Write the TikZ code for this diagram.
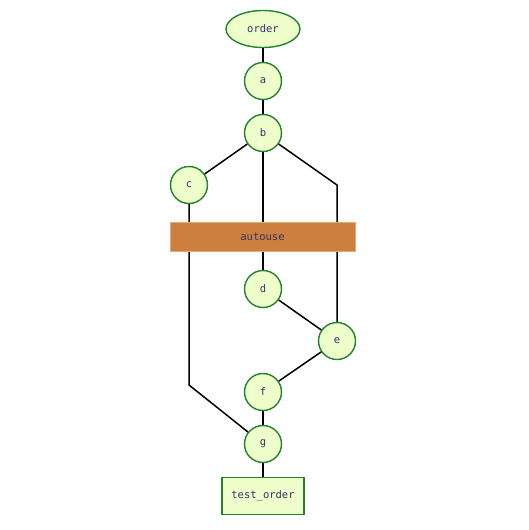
\documentclass[tikz,border=0pt]{standalone}
\usepackage{fontspec}
\setmonofont{DejaVu Sans Mono}
\usepackage{tikz}
\usetikzlibrary{shapes.geometric}

\definecolor{fixfill}{RGB}{238,255,204}
\definecolor{fixline}{RGB}{34,130,48}
\definecolor{fixtext}{RGB}{51,51,102}
\definecolor{autofill}{RGB}{205,127,63}
\definecolor{autoline}{RGB}{232,170,120}

\tikzset{
    fixnode/.style={circle, draw=fixline, fill=fixfill, line width=1.4pt,
        minimum size=37pt, inner sep=0pt, text=fixtext, font=\ttfamily\fontsize{10.5}{12}\selectfont},
    topnode/.style={ellipse, draw=fixline, fill=fixfill, line width=1.4pt,
        minimum width=74pt, minimum height=37pt, inner sep=0pt, text=fixtext, font=\ttfamily\fontsize{10.5}{12}\selectfont},
    testnode/.style={rectangle, draw=fixline, fill=fixfill, line width=1.4pt,
        minimum width=82pt, minimum height=37pt, inner sep=0pt, text=fixtext, font=\ttfamily\fontsize{10.5}{12}\selectfont},
    autonode/.style={rectangle, draw=autoline, fill=autofill, line width=0.6pt,
        minimum width=185pt, minimum height=29pt, inner sep=0pt, text=fixtext, font=\ttfamily\fontsize{10.5}{12}\selectfont},
    link/.style={line width=1.5pt, black}
}

\begin{document}
\begin{tikzpicture}[x=1pt, y=-1pt]

    \useasboundingbox (0,0) rectangle (528,530);

    % Columns
    \def\colMid{263}
    \def\colLeft{189}
    \def\colRight{337}

    % =========================================================================
    % Fixture nodes
    % =========================================================================
    \node[topnode] (order) at (\colMid, 29) {order};
    \node[fixnode] (a) at (\colMid, 81) {a};
    \node[fixnode] (b) at (\colMid, 133) {b};
    \node[fixnode] (c) at (\colLeft, 185) {c};
    \node[fixnode] (d) at (\colMid, 289) {d};
    \node[fixnode] (e) at (\colRight, 341) {e};
    \node[fixnode] (f) at (\colMid, 392) {f};
    \node[fixnode] (g) at (\colMid, 444) {g};
    \node[testnode] (test) at (\colMid, 496) {test\_order};

    % Bends
    \coordinate (bright) at (\colRight, 185);
    \coordinate (cdown) at (\colLeft, 385);

    % =========================================================================
    % Links
    % =========================================================================
    \draw[link] (order) -- (a);
    \draw[link] (a) -- (b);
    \draw[link] (b) -- (c);
    \draw[link] (b) -- (d);
    \draw[link] (b) -- (bright) -- (e);
    \draw[link] (c) -- (cdown) -- (g);
    \draw[link] (d) -- (e);
    \draw[link] (e) -- (f);
    \draw[link] (f) -- (g);
    \draw[link] (g) -- (test);

    % =========================================================================
    % Autouse bar (on top of the links)
    % =========================================================================
    \node[autonode] (autouse) at (262.5, 236.5) {autouse};

\end{tikzpicture}
\end{document}
